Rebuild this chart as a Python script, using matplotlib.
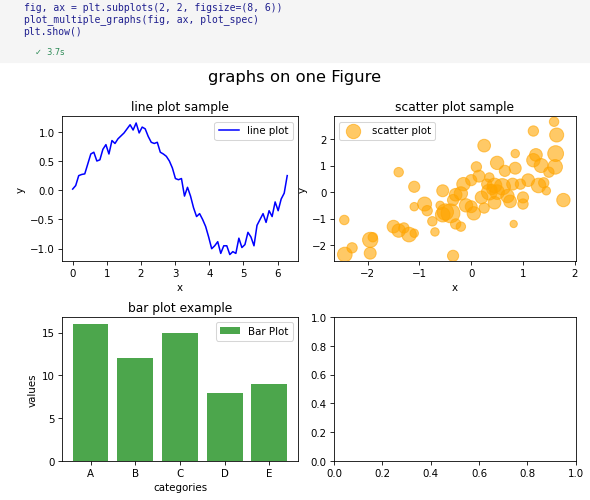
import numpy as np
import matplotlib
matplotlib.use('Agg')
import matplotlib.pyplot as plt

line_y = [0.02, 0.08, 0.25, 0.27, 0.28, 0.45, 0.62, 0.65, 0.50, 0.52, 0.70, 0.78, 0.62, 0.85,
          0.80, 0.88, 0.93, 0.98, 1.05, 1.12, 1.03, 1.15, 0.98, 1.08, 1.05, 0.92, 0.82, 0.80,
          0.82, 0.65, 0.62, 0.58, 0.50, 0.38, 0.20, 0.18, 0.20, -0.10, 0.05, -0.10, -0.30,
          -0.45, -0.40, -0.50, -0.62, -0.80, -1.00, -0.95, -0.88, -1.08, -0.95, -0.95, -1.10,
          -1.05, -1.08, -0.82, -0.98, -0.93, -0.72, -0.80, -0.95, -0.60, -0.50, -0.40, -0.55,
          -0.35, -0.45, -0.20, -0.35, -0.15, -0.05, 0.25]
line_x = np.linspace(0, 2 * np.pi, len(line_y))

sc_x = [-2.44, -2.3, -2.45, -1.95, -1.95, -1.9, -1.5, -1.4, -1.3, -1.2, -1.1, -1.4, -1.1, -1.1,
        -0.9, -0.85, -0.75, -0.7, -0.6, -0.55, -0.55, -0.5, -0.4, -0.35, -0.3, -0.3, -0.2,
        -0.15, -0.1, 0.0, 0.0, -0.35, 0.1, 0.15, 0.2, 0.25, 0.3, 0.05, 0.35, 0.4, 0.45, 0.5,
        0.5, 0.25, 0.6, 0.65, 0.7, 0.75, 0.8, 0.85, 0.95, 1.0, 0.85, 1.1, 0.82, 1.2, 1.0, 1.25,
        1.3, 1.35, 1.4, 1.2, 1.5, 1.45, 1.6, 1.65, 1.63, 1.62, 1.78, 0.35, 0.45, -0.2]
sc_y = [-2.35, -2.1, -1.05, -2.3, -1.8, -1.7, -1.3, -1.45, -1.35, -1.6, -1.55, 0.75, 0.2,
        -0.55, -0.45, -0.7, -1.1, -1.5, -0.5, 0.05, -0.85, -0.75, -0.8, -0.3, -0.1, -1.2,
        -1.3, 0.3, -0.5, -0.55, 0.45, -2.4, 0.95, 0.6, -0.2, -0.6, 0.3, -0.8, 0.55, 0.1,
        -0.4, 0.0, 1.1, 1.75, 0.2, 0.8, -0.15, -0.35, 0.3, 0.9, 0.3, -0.2, 1.45, 0.45, -1.2,
        1.2, -0.45, 1.4, 0.25, 1.0, 0.35, 2.3, 0.75, 0.05, 2.65, 2.15, 1.45, 0.95, -0.3, 0.0,
        0.25, -0.05]
sc_s = [120, 60, 50, 80, 130, 50, 90, 100, 60, 120, 40, 50, 70, 40, 110, 60, 50, 40, 40, 80,
        120, 150, 200, 70, 90, 60, 50, 100, 100, 80, 70, 70, 60, 80, 90, 60, 60, 100, 50, 60,
        90, 120, 100, 90, 150, 70, 100, 90, 80, 80, 60, 70, 40, 90, 30, 100, 60, 90, 120, 110,
        60, 60, 60, 40, 50, 110, 140, 120, 100, 140, 120, 100]

categories = ['A', 'B', 'C', 'D', 'E']
values = [16, 12, 15, 8, 9]

fig = plt.figure(figsize=(8, 6.79), dpi=73.75)

code = ("fig, ax = plt.subplots(2, 2, figsize=(8, 6))\n"
        "plot_multiple_graphs(fig, ax, plot_spec)\n"
        "plt.show()")
fig.patches.append(plt.Rectangle((0, 0.875), 1, 0.125, transform=fig.transFigure,
                                 color='#f5f5f5', zorder=-1))
fig.text(0.04, 0.995, code, family='DejaVu Sans Mono', fontsize=9.5, va='top', color='#1f1f8f')
fig.text(0.06, 0.89, '✓  3.7s', fontsize=8, color='#2e8b57')
fig.suptitle('graphs on one Figure', y=0.86, fontsize=16)

ax1 = fig.add_axes([0.105, 0.477, 0.40, 0.289])
ax1.plot(line_x, line_y, color='blue', label='line plot')
ax1.set_title('line plot sample')
ax1.set_xlabel('x')
ax1.set_ylabel('y')
ax1.legend(loc='upper right')

ax2 = fig.add_axes([0.566, 0.477, 0.41, 0.289])
ax2.scatter(sc_x, sc_y, s=np.array(sc_s) * 1.7, color='orange', alpha=0.6, label='scatter plot')
ax2.set_xlim(-2.65, 2.02)
ax2.set_ylim(-2.6, 2.85)
ax2.set_title('scatter plot sample')
ax2.set_xlabel('x')
ax2.set_ylabel('y')
ax2.legend(loc='upper left')

ax3 = fig.add_axes([0.105, 0.078, 0.40, 0.287])
ax3.bar(categories, values, color='green', alpha=0.7, label='Bar Plot')
ax3.set_yticks([0, 5, 10, 15])
ax3.set_title('bar plot example')
ax3.set_xlabel('categories')
ax3.set_ylabel('values')
ax3.legend(loc='upper right')

ax4 = fig.add_axes([0.566, 0.078, 0.41, 0.287])

fig.savefig('out.png', dpi=73.75)
